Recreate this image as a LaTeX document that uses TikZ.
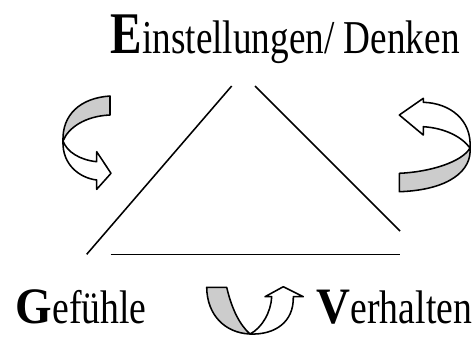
\documentclass[tikz,border=0pt]{standalone}
\usepackage{fontspec}
\setmainfont{Liberation Serif}[FakeStretch=0.8]
\newfontfamily\capfont{Liberation Serif}[FakeStretch=0.92]
\usetikzlibrary{positioning}
\definecolor{cband}{HTML}{CCCCCC}
\newcommand{\bigletter}[2]{{\fontsize{#1}{#1}\selectfont\bfseries #2}}
\newcommand{\wideletter}[2]{{\capfont\fontsize{#1}{#1}\selectfont\bfseries #2}}
\tikzset{
  every picture/.style={line width=1.1pt, line join=round},
  label text/.style={anchor=base west, inner sep=0pt, font=\fontsize{33.5}{40}\selectfont},
  band/.style={draw=black, fill=cband},
  face/.style={draw=black, fill=white},
}
\begin{document}
\begin{tikzpicture}[x=0.025cm, y=-0.025cm]
  \useasboundingbox (0,0) rectangle (474,338);
  % corner texts
  \node[label text] (denken) at (110,53.3) {\bigletter{42}{E}\addfontfeature{FakeStretch=0.79}instellungen/ Denken};
  \node[label text] (gefuehle) at (15,323.3) {\wideletter{36.3}{G}efühle};
  \node[label text] (verhalten) at (316,323.3) {\wideletter{36.3}{V}erhalten};
  % open triangle
  \coordinate (tl) at (86.7,254.3);  \coordinate (tt) at (231.7,86);
  \coordinate (rt) at (255,86);      \coordinate (rb) at (400,231);
  \coordinate (bl) at (110.7,254.3); \coordinate (br) at (400,254.3);
  \draw (tl) -- (tt);
  \draw (rt) -- (rb);
  \draw (bl) -- (br);
  % left turning arrow
  \draw[band] (110,96) .. controls (80,98) and (62,115) .. (63,141)
    .. controls (68,128) and (85,116) .. (110,115) -- cycle;
  \draw[face] (63,141) .. controls (67,152) and (80,160) .. (96.7,161.7)
    -- (96.7,151.7) -- (111,173.3) -- (96.7,189.3) -- (96.7,180)
    .. controls (80,178) and (62,165) .. (63,141) -- cycle;
  % right turning arrow
  \draw[band] (399.3,173.3) .. controls (430,172) and (462,162) .. (470,148)
    .. controls (472,170) and (450,190) .. (399.3,191.7) -- cycle;
  \draw[face] (470,148) .. controls (472,120) and (450,103) .. (423.3,102.3)
    -- (423.3,98.3) -- (399.3,115) -- (423.3,135) -- (423.3,126.7)
    .. controls (445,128) and (462,137) .. (470,148) -- cycle;
  % bottom turning arrow
  \draw[band] (206.7,287.3) -- (226.7,287.3) .. controls (232,310) and (240,325) .. (250,334)
    .. controls (225,333) and (207,315) .. (206.7,287.3) -- cycle;
  \draw[face] (250,334) .. controls (262,328) and (271,312) .. (271.7,296.7)
    -- (265,296.7) -- (283.3,286.7) -- (303.3,296.7) -- (293.3,296.7)
    .. controls (294,322) and (275,335) .. (250,334) -- cycle;
\end{tikzpicture}
\end{document}
